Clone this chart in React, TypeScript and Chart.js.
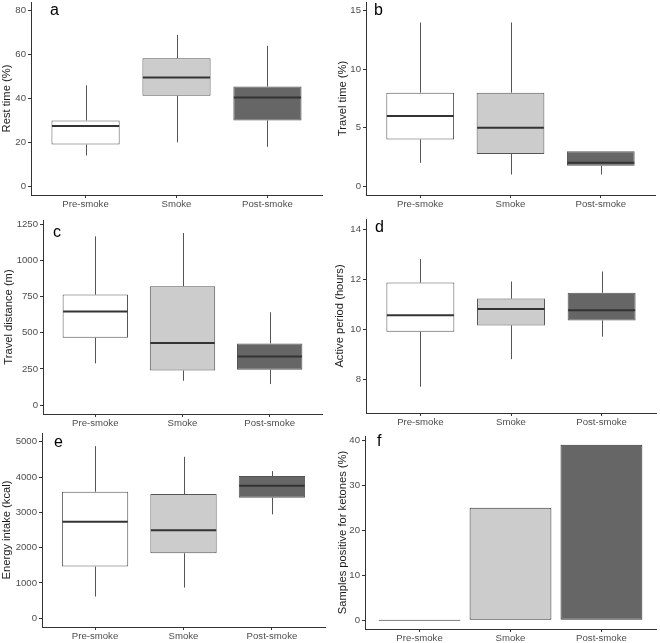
import React, { useEffect, useRef } from "react";
import { Chart, registerables } from "chart.js";
Chart.register(...registerables);

const FONT = "'Liberation Sans', Arial, Helvetica, sans-serif";

// ---------- data ----------
const categories = ["Pre-smoke", "Smoke", "Post-smoke"];
const fills = ["#FFFFFF", "#CCCCCC", "#666666"];

// a: Rest time (%)
const restMin = [14, 20, 18];
const restQ1 = [19, 41.2, 30];
const restMedian = [27.5, 49.6, 40.5];
const restQ3 = [30, 58.4, 45.5];
const restMax = [46, 69, 64];
const restTicks = [0, 20, 40, 60, 80];

// b: Travel time (%)
const travelTimeMin = [2, 1, 1];
const travelTimeQ1 = [4, 2.75, 1.75];
const travelTimeMedian = [6, 5, 2];
const travelTimeQ3 = [8, 8, 3];
const travelTimeMax = [14, 14, 3];
const travelTimeTicks = [0, 5, 10, 15];

// c: Travel distance (m)
const distMin = [288, 168, 145];
const distQ1 = [465, 239, 244];
const distMedian = [647, 430, 336];
const distQ3 = [764, 822, 426];
const distMax = [1167, 1190, 642];
const distTicks = [0, 250, 500, 750, 1000, 1250];

// d: Active period (hours)
const activeMin = [7.7, 8.8, 9.7];
const activeQ1 = [9.9, 10.15, 10.35];
const activeMedian = [10.55, 10.8, 10.75];
const activeQ3 = [11.86, 11.22, 11.45];
const activeMax = [12.8, 11.9, 12.3];
const activeTicks = [8, 10, 12, 14];

// e: Energy intake (kcal)
const energyMin = [613, 868, 2943];
const energyQ1 = [1462, 1840, 3415];
const energyMedian = [2736, 2491, 3755];
const energyQ3 = [3585, 3519, 4028];
const energyMax = [4877, 4575, 4170];
const energyTicks = [0, 1000, 2000, 3000, 4000, 5000];

// f: Samples positive for ketones (%)
const ketonePct = [0, 25, 39];
const ketoneTicks = [0, 10, 20, 30, 40];

// ---------- panel layout ----------
interface PanelDef {
  letter: string;
  yTitle: string;
  yMin: number;
  yMax: number;
  yTicks: number[];
  kind: "box" | "bar";
  mins?: number[];
  q1?: number[];
  medians?: number[];
  q3?: number[];
  maxs?: number[];
  values?: number[];
  canvas: [number, number, number, number];
  plot: [number, number, number, number];
  titleCenter: number;
  letterPos: [number, number];
}

const panels: PanelDef[] = [
  {
    letter: "a", yTitle: "Rest time (%)", yMin: -4, yMax: 84, yTicks: restTicks, kind: "box",
    mins: restMin, q1: restQ1, medians: restMedian, q3: restQ3, maxs: restMax,
    canvas: [0, 0, 330, 215], plot: [31, 2, 322, 195], titleCenter: 7, letterPos: [50, 15],
  },
  {
    letter: "b", yTitle: "Travel time (%)", yMin: -0.75, yMax: 15.75, yTicks: travelTimeTicks, kind: "box",
    mins: travelTimeMin, q1: travelTimeQ1, medians: travelTimeMedian, q3: travelTimeQ3, maxs: travelTimeMax,
    canvas: [330, 0, 330, 215], plot: [366, 2, 655, 195], titleCenter: 12.7, letterPos: [374, 15],
  },
  {
    letter: "c", yTitle: "Travel distance (m)", yMin: -62, yMax: 1280, yTicks: distTicks, kind: "box",
    mins: distMin, q1: distQ1, medians: distMedian, q3: distQ3, maxs: distMax,
    canvas: [0, 215, 330, 215], plot: [43, 220, 322, 414], titleCenter: 9, letterPos: [53, 237],
  },
  {
    letter: "d", yTitle: "Active period (hours)", yMin: 6.65, yMax: 14.4, yTicks: activeTicks, kind: "box",
    mins: activeMin, q1: activeQ1, medians: activeMedian, q3: activeQ3, maxs: activeMax,
    canvas: [330, 215, 330, 215], plot: [366, 219, 656, 413], titleCenter: 10, letterPos: [375, 232],
  },
  {
    letter: "e", yTitle: "Energy intake (kcal)", yMin: -250, yMax: 5250, yTicks: energyTicks, kind: "box",
    mins: energyMin, q1: energyQ1, medians: energyMedian, q3: energyQ3, maxs: energyMax,
    canvas: [0, 430, 330, 213], plot: [42, 433, 325, 627], titleCenter: 7.3, letterPos: [54, 447],
  },
  {
    letter: "f", yTitle: "Samples positive for ketones (%)", yMin: -1.95, yMax: 40.95, yTicks: ketoneTicks, kind: "bar",
    values: ketonePct,
    canvas: [330, 430, 330, 213], plot: [365, 436, 656, 629], titleCenter: 13.3, letterPos: [377, 446],
  },
];

const AXIS = "#333333";
const TICK_TEXT = "#4d4d4d";
const OUTLINE = "#555555";
const MEDIAN = "#333333";
const TICK_SIZE = 9.6;
const TITLE_SIZE = 11.2;

function Panel({ def }: { def: PanelDef }) {
  const ref = useRef<HTMLCanvasElement>(null);
  useEffect(() => {
    if (!ref.current) return;
    const [cx, cy, cw, ch] = def.canvas;
    const [pl, pt, pr, pb] = def.plot;
    const isBox = def.kind === "box";
    const yWidth = pl - cx;
    const xHeight = cy + ch - pb;
    const titleLine = TITLE_SIZE * 1.2;

    const data = categories.map((_, i) =>
      isBox ? { x: i + 1, y: [def.q1![i], def.q3![i]] } : { x: i + 1, y: def.values![i] }
    );

    const extras = {
      id: "extras",
      beforeDatasetsDraw(chart: any) {
        if (!isBox) return;
        const ctx = chart.ctx;
        const xs = chart.scales.x;
        const ys = chart.scales.y;
        ctx.save();
        ctx.strokeStyle = OUTLINE;
        ctx.lineWidth = 1;
        categories.forEach((_, i) => {
          const x = Math.round(xs.getPixelForValue(i + 1)) + 0.5;
          ctx.beginPath();
          ctx.moveTo(x, ys.getPixelForValue(def.maxs![i]));
          ctx.lineTo(x, ys.getPixelForValue(def.q3![i]));
          ctx.moveTo(x, ys.getPixelForValue(def.q1![i]));
          ctx.lineTo(x, ys.getPixelForValue(def.mins![i]));
          ctx.stroke();
        });
        ctx.restore();
      },
      afterDatasetsDraw(chart: any) {
        const ctx = chart.ctx;
        const ys = chart.scales.y;
        ctx.save();
        if (isBox) {
          const meta = chart.getDatasetMeta(0);
          ctx.strokeStyle = MEDIAN;
          ctx.lineWidth = 2;
          categories.forEach((_, i) => {
            const el = meta.data[i];
            const y = ys.getPixelForValue(def.medians![i]);
            ctx.beginPath();
            ctx.moveTo(el.x - el.width / 2 + 0.5, y);
            ctx.lineTo(el.x + el.width / 2 - 0.5, y);
            ctx.stroke();
          });
        }
        ctx.fillStyle = "#000000";
        ctx.font = `16px ${FONT}`;
        ctx.textBaseline = "alphabetic";
        ctx.textAlign = "left";
        ctx.fillText(def.letter, def.letterPos[0] - cx, def.letterPos[1] - cy);
        ctx.restore();
      },
    };

    const chart = new Chart(ref.current, {
      type: "bar",
      data: {
        datasets: [
          {
            data: data as any,
            backgroundColor: fills,
            borderColor: isBox ? OUTLINE : "#333333",
            borderWidth: 1,
            borderSkipped: false,
            barPercentage: isBox ? 0.75 : 0.9,
            categoryPercentage: 1,
            minBarLength: isBox ? 0 : 1,
          } as any,
        ],
      },
      options: {
        responsive: false,
        maintainAspectRatio: false,
        animation: false,
        devicePixelRatio: 1,
        layout: { padding: { left: 0, top: pt - cy, right: cx + cw - pr, bottom: 0 } },
        plugins: { legend: { display: false }, tooltip: { enabled: false } },
        scales: {
          x: {
            type: "linear",
            min: 0.4,
            max: 3.6,
            offset: false,
            afterBuildTicks: (axis: any) => {
              axis.ticks = categories.map((_, i) => ({ value: i + 1 }));
            },
            afterFit: (s: any) => {
              s.height = xHeight;
              s.paddingLeft = 0;
              s.paddingRight = 0;
            },
            grid: { offset: false, drawOnChartArea: false, drawTicks: true, tickLength: 3, color: AXIS, lineWidth: 1 },
            border: { display: true, color: AXIS, width: 1 },
            ticks: {
              padding: 1,
              color: TICK_TEXT,
              font: { family: FONT, size: TICK_SIZE },
              maxRotation: 0,
              autoSkip: false,
              callback: (v: any) => categories[Math.round(Number(v)) - 1] ?? "",
            },
          },
          y: {
            type: "linear",
            min: def.yMin,
            max: def.yMax,
            afterBuildTicks: (axis: any) => {
              axis.ticks = def.yTicks.map((v) => ({ value: v }));
            },
            afterFit: (s: any) => {
              s.width = yWidth;
              s.paddingTop = 0;
              s.paddingBottom = 0;
            },
            grid: { drawOnChartArea: false, drawTicks: true, tickLength: 3, color: AXIS, lineWidth: 1 },
            border: { display: true, color: AXIS, width: 1 },
            ticks: {
              padding: 2,
              color: TICK_TEXT,
              font: { family: FONT, size: TICK_SIZE },
              autoSkip: false,
              callback: (v: any) => String(v),
            },
            title: {
              display: true,
              text: def.yTitle,
              color: "#1a1a1a",
              font: { family: FONT, size: TITLE_SIZE },
              padding: { top: Math.max(0, def.titleCenter - titleLine / 2), bottom: 0 },
            },
          },
        },
      } as any,
      plugins: [extras],
    });
    return () => chart.destroy();
  }, [def]);

  const [cx, cy, cw, ch] = def.canvas;
  return (
    <canvas
      ref={ref}
      width={cw}
      height={ch}
      style={{ position: "absolute", left: cx, top: cy, width: cw, height: ch }}
    />
  );
}

export default function App() {
  return (
    <div style={{ position: "absolute", left: 0, top: 0, width: 660, height: 643, background: "#ffffff" }}>
      {panels.map((p) => (
        <Panel key={p.letter} def={p} />
      ))}
    </div>
  );
}
